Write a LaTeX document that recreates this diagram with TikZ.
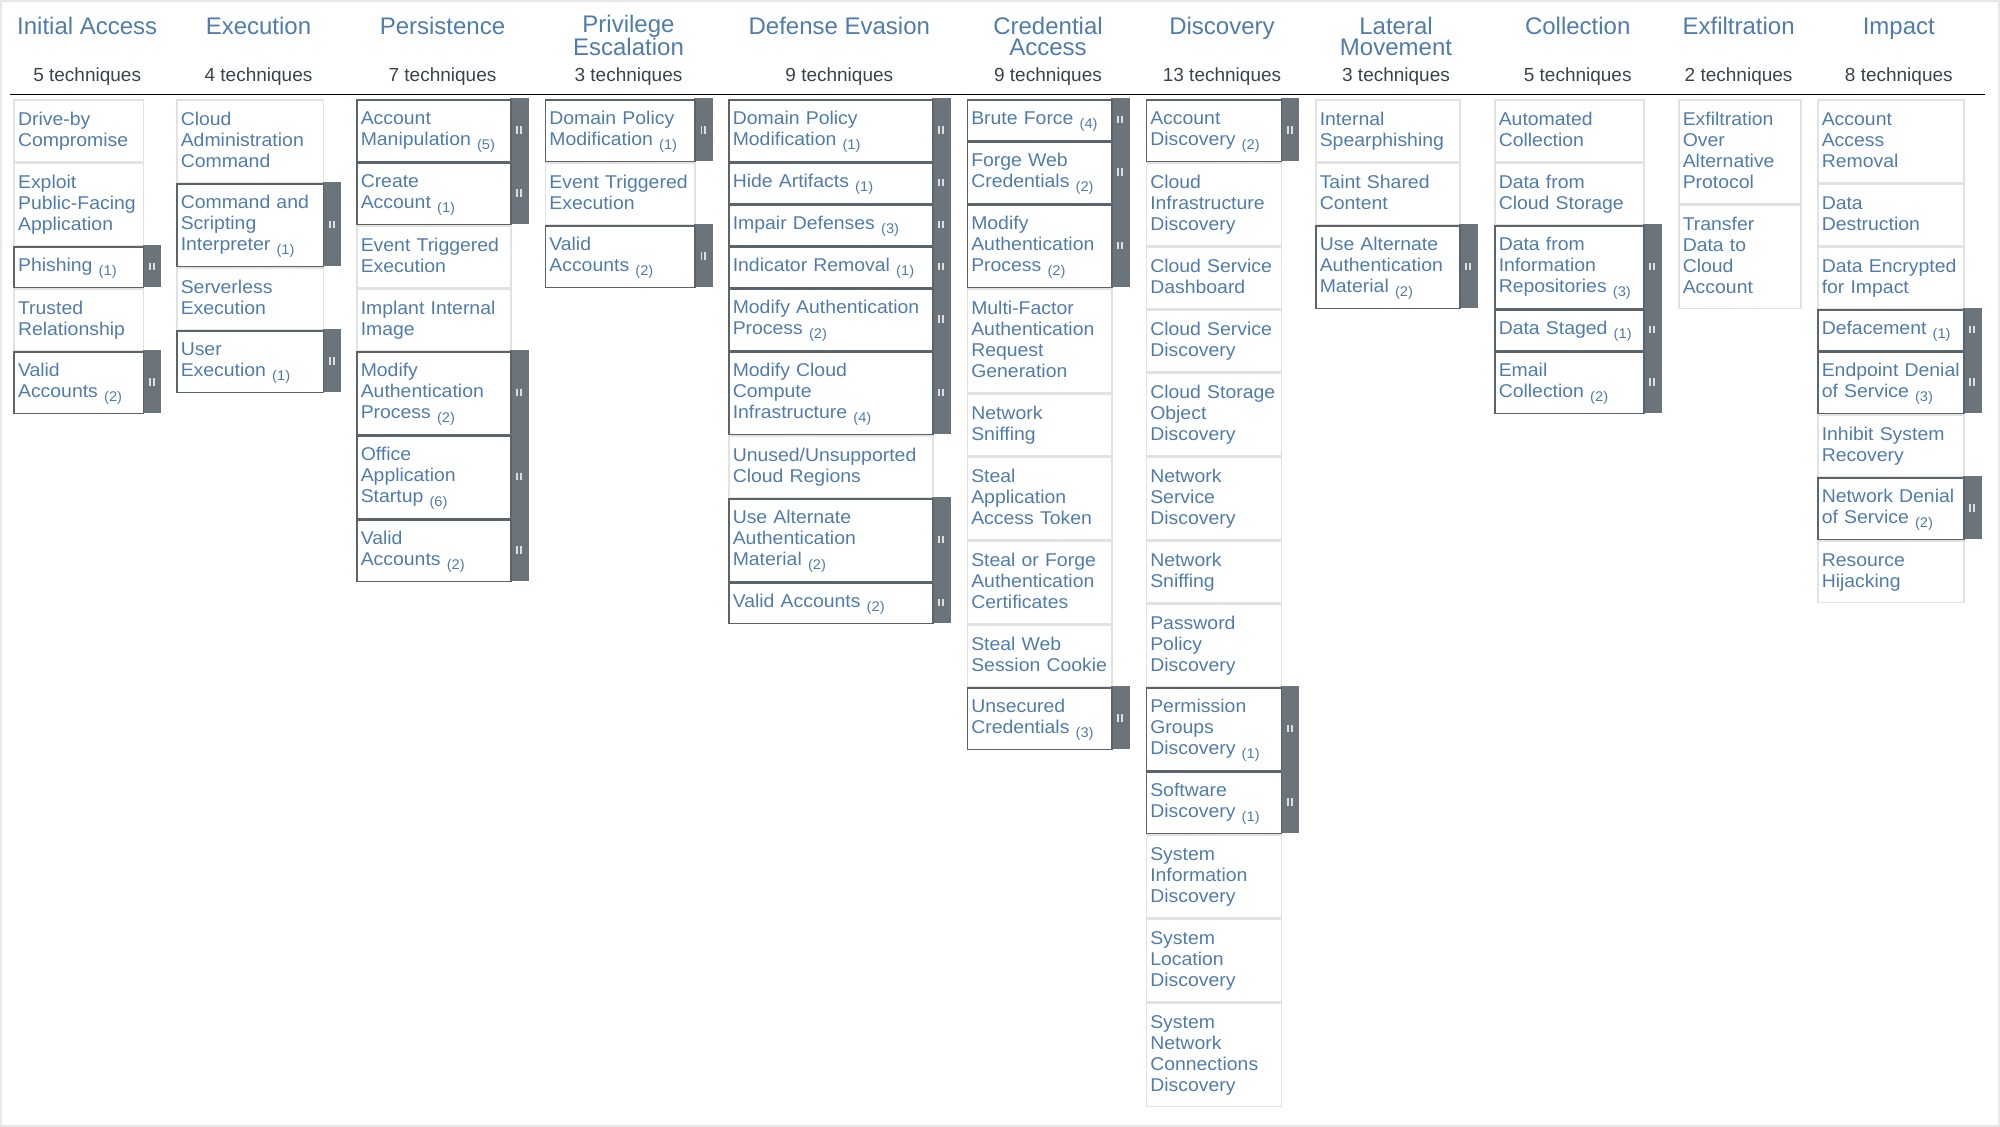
\documentclass[tikz,border=0pt]{standalone}
\usepackage{fontspec}
\setmainfont{Liberation Sans}
\newfontfamily\cellfont[FakeStretch=1.05]{Liberation Sans}
\definecolor{tblue}{HTML}{4F7CAC}
\definecolor{cntcol}{HTML}{39434C}
\definecolor{barcol}{HTML}{6B737B}
\definecolor{darkbd}{HTML}{5B636B}
\definecolor{lightbd}{HTML}{E2E2E2}
\definecolor{framecol}{HTML}{E8E8E8}
\definecolor{gripcol}{HTML}{DCDFE2}
\newcommand\cstrut{\rule[-5.2pt]{0pt}{21pt}}
\newcommand\sbc[1]{{\fontsize{14}{14}\selectfont\raisebox{-3.5pt}{(#1)}}}
\tikzset{
  basecell/.style={draw=lightbd, line width=1.5pt, inner xsep=4pt, inner ysep=0pt,
    align=left, font=\cellfont\fontsize{18.5}{21}\selectfont, text=tblue,
    execute at begin node={\cstrut}, execute at end node={\cstrut}},
  supercell/.style={basecell, draw=darkbd},
  ttl/.style={font=\fontsize{24}{21.4}\selectfont, text=tblue, align=center, inner sep=0pt, anchor=base},
  cnt/.style={font=\fontsize{19}{19}\selectfont, text=cntcol, inner sep=0pt, anchor=base}
}
\newcommand\tcellbase[7]{%
  \pgfmathsetmacro\tcy{98.3+#5*21+0.75}%
  \pgfmathsetmacro\tch{#6*21-1.5}%
  \pgfmathsetmacro\tctw{#4-8}%
  \node[#1, minimum width=#4pt, minimum height=\tch pt, text width=\tctw pt, anchor=north west] (#2) at (#3,\tcy) {#7};%
}
\newcommand\tcell[6]{\tcellbase{basecell}{#1}{#2}{#3}{#4}{#5}{#6}}
\newcommand\scell[6]{%
  \pgfmathsetmacro\bxa{#2+#3}\pgfmathsetmacro\bxb{#2+#3+18.5}%
  \pgfmathsetmacro\bya{98.3+#4*21}\pgfmathsetmacro\byb{98.3+(#4+#5)*21}%
  \fill[barcol] (\bxa,\bya) rectangle (\bxb,\byb);%
  \pgfmathsetmacro\bcx{#2+#3+9.25}\pgfmathsetmacro\bcy{98.3+(#4+#5/2)*21}%
  \draw[gripcol, line width=1.8pt] (\bcx-1.9,\bcy-3.7) -- (\bcx-1.9,\bcy+3.7) (\bcx+1.9,\bcy-3.7) -- (\bcx+1.9,\bcy+3.7);%
  \tcellbase{supercell}{#1}{#2}{#3}{#4}{#5}{#6}%
}
\begin{document}
\begin{tikzpicture}[x=1pt,y=-1pt]
\useasboundingbox (0,0) rectangle (2000,1127);
\draw[framecol, line width=2pt] (1,1) rectangle (1999,1126);
% titles
\node[ttl] (t1) at (87.2,34.3) {Initial Access};
\node[ttl] (t2) at (258.5,34.3) {Execution};
\node[ttl] (t3) at (442.5,34.3) {Persistence};
\node[ttl] (t4) at (628.5,55.7) {Privilege\\Escalation};
\node[ttl] (t5) at (839.3,34.3) {Defense Evasion};
\node[ttl] (t6) at (1048,55.7) {Credential\\Access};
\node[ttl] (t7) at (1222,34.3) {Discovery};
\node[ttl] (t8) at (1396,55.7) {Lateral\\Movement};
\node[ttl] (t9) at (1577.7,34.3) {Collection};
\node[ttl] (t10) at (1738.6,34.3) {Exfiltration};
\node[ttl] (t11) at (1898.8,34.3) {Impact};
% counts
\node[cnt] (n1) at (87.2,81) {5 techniques};
\node[cnt] (n2) at (258.5,81) {4 techniques};
\node[cnt] (n3) at (442.5,81) {7 techniques};
\node[cnt] (n4) at (628.5,81) {3 techniques};
\node[cnt] (n5) at (839.3,81) {9 techniques};
\node[cnt] (n6) at (1048,81) {9 techniques};
\node[cnt] (n7) at (1222,81) {13 techniques};
\node[cnt] (n8) at (1396,81) {3 techniques};
\node[cnt] (n9) at (1577.7,81) {5 techniques};
\node[cnt] (n10) at (1738.6,81) {2 techniques};
\node[cnt] (n11) at (1898.8,81) {8 techniques};
\draw[line width=1.5pt] (10,94.3) -- (1985,94.3);
% Initial Access
\tcell{c1a}{13.3}{129.4}{0}{3}{Drive-by\\Compromise}
\tcell{c1b}{13.3}{129.4}{3}{4}{Exploit\\Public-Facing\\Application}
\scell{c1c}{13.3}{129.4}{7}{2}{Phishing~\sbc{1}}
\tcell{c1d}{13.3}{129.4}{9}{3}{Trusted\\Relationship}
\scell{c1e}{13.3}{129.4}{12}{3}{Valid\\Accounts~\sbc{2}}
% Execution
\tcell{c2a}{176}{146.5}{0}{4}{Cloud\\Administration\\Command}
\scell{c2b}{176}{146.5}{4}{4}{Command~and\\Scripting\\Interpreter~\sbc{1}}
\tcell{c2c}{176}{146.5}{8}{3}{Serverless\\Execution}
\scell{c2d}{176}{146.5}{11}{3}{User\\Execution~\sbc{1}}
% Persistence
\scell{c3a}{356}{154}{0}{3}{Account\\Manipulation~\sbc{5}}
\scell{c3b}{356}{154}{3}{3}{Create\\Account~\sbc{1}}
\tcell{c3c}{356}{154}{6}{3}{Event~Triggered\\Execution}
\tcell{c3d}{356}{154}{9}{3}{Implant~Internal\\Image}
\scell{c3e}{356}{154}{12}{4}{Modify\\Authentication\\Process~\sbc{2}}
\scell{c3f}{356}{154}{16}{4}{Office\\Application\\Startup~\sbc{6}}
\scell{c3g}{356}{154}{20}{3}{Valid\\Accounts~\sbc{2}}
% Privilege Escalation
\scell{c4a}{544.6}{149.5}{0}{3}{Domain~Policy\\Modification~\sbc{1}}
\tcell{c4b}{544.6}{149.5}{3}{3}{Event~Triggered\\Execution}
\scell{c4c}{544.6}{149.5}{6}{3}{Valid\\Accounts~\sbc{2}}
% Defense Evasion
\scell{c5a}{728}{204}{0}{3}{Domain~Policy\\Modification~\sbc{1}}
\scell{c5b}{728}{204}{3}{2}{Hide~Artifacts~\sbc{1}}
\scell{c5c}{728}{204}{5}{2}{Impair~Defenses~\sbc{3}}
\scell{c5d}{728}{204}{7}{2}{Indicator~Removal~\sbc{1}}
\scell{c5e}{728}{204}{9}{3}{Modify~Authentication\\Process~\sbc{2}}
\scell{c5f}{728}{204}{12}{4}{Modify~Cloud\\Compute\\Infrastructure~\sbc{4}}
\tcell{c5g}{728}{204}{16}{3}{Unused/Unsupported\\Cloud~Regions}
\scell{c5h}{728}{204}{19}{4}{Use~Alternate\\Authentication\\Material~\sbc{2}}
\scell{c5i}{728}{204}{23}{2}{Valid~Accounts~\sbc{2}}
% Credential Access
\scell{c6a}{966.5}{144.5}{0}{2}{Brute~Force~\sbc{4}}
\scell{c6b}{966.5}{144.5}{2}{3}{Forge~Web\\Credentials~\sbc{2}}
\scell{c6c}{966.5}{144.5}{5}{4}{Modify\\Authentication\\Process~\sbc{2}}
\tcell{c6d}{966.5}{144.5}{9}{5}{Multi-Factor\\Authentication\\Request\\Generation}
\tcell{c6e}{966.5}{144.5}{14}{3}{Network\\Sniffing}
\tcell{c6f}{966.5}{144.5}{17}{4}{Steal\\Application\\Access~Token}
\tcell{c6g}{966.5}{144.5}{21}{4}{Steal~or~Forge\\Authentication\\Certificates}
\tcell{c6h}{966.5}{144.5}{25}{3}{Steal~Web\\Session~Cookie}
\scell{c6i}{966.5}{144.5}{28}{3}{Unsecured\\Credentials~\sbc{3}}
% Discovery
\scell{c7a}{1145.5}{135}{0}{3}{Account\\Discovery~\sbc{2}}
\tcell{c7b}{1145.5}{135}{3}{4}{Cloud\\Infrastructure\\Discovery}
\tcell{c7c}{1145.5}{135}{7}{3}{Cloud~Service\\Dashboard}
\tcell{c7d}{1145.5}{135}{10}{3}{Cloud~Service\\Discovery}
\tcell{c7e}{1145.5}{135}{13}{4}{Cloud~Storage\\Object\\Discovery}
\tcell{c7f}{1145.5}{135}{17}{4}{Network\\Service\\Discovery}
\tcell{c7g}{1145.5}{135}{21}{3}{Network\\Sniffing}
\tcell{c7h}{1145.5}{135}{24}{4}{Password\\Policy\\Discovery}
\scell{c7i}{1145.5}{135}{28}{4}{Permission\\Groups\\Discovery~\sbc{1}}
\scell{c7j}{1145.5}{135}{32}{3}{Software\\Discovery~\sbc{1}}
\tcell{c7k}{1145.5}{135}{35}{4}{System\\Information\\Discovery}
\tcell{c7l}{1145.5}{135}{39}{4}{System\\Location\\Discovery}
\tcell{c7m}{1145.5}{135}{43}{5}{System\\Network\\Connections\\Discovery}
% Lateral Movement
\tcell{c8a}{1315}{144}{0}{3}{Internal\\Spearphishing}
\tcell{c8b}{1315}{144}{3}{3}{Taint~Shared\\Content}
\scell{c8c}{1315}{144}{6}{4}{Use~Alternate\\Authentication\\Material~\sbc{2}}
% Collection
\tcell{c9a}{1494}{149}{0}{3}{Automated\\Collection}
\tcell{c9b}{1494}{149}{3}{3}{Data~from\\Cloud~Storage}
\scell{c9c}{1494}{149}{6}{4}{Data~from\\Information\\Repositories~\sbc{3}}
\scell{c9d}{1494}{149}{10}{2}{Data~Staged~\sbc{1}}
\scell{c9e}{1494}{149}{12}{3}{Email\\Collection~\sbc{2}}
% Exfiltration
\tcell{c10a}{1678}{122}{0}{5}{Exfiltration\\Over\\Alternative\\Protocol}
\tcell{c10b}{1678}{122}{5}{5}{Transfer\\Data~to\\Cloud\\Account}
% Impact
\tcell{c11a}{1817}{146}{0}{4}{Account\\Access\\Removal}
\tcell{c11b}{1817}{146}{4}{3}{Data\\Destruction}
\tcell{c11c}{1817}{146}{7}{3}{Data~Encrypted\\for~Impact}
\scell{c11d}{1817}{146}{10}{2}{Defacement~\sbc{1}}
\scell{c11e}{1817}{146}{12}{3}{Endpoint~Denial\\of~Service~\sbc{3}}
\tcell{c11f}{1817}{146}{15}{3}{Inhibit~System\\Recovery}
\scell{c11g}{1817}{146}{18}{3}{Network~Denial\\of~Service~\sbc{2}}
\tcell{c11h}{1817}{146}{21}{3}{Resource\\Hijacking}
\end{tikzpicture}
\end{document}
